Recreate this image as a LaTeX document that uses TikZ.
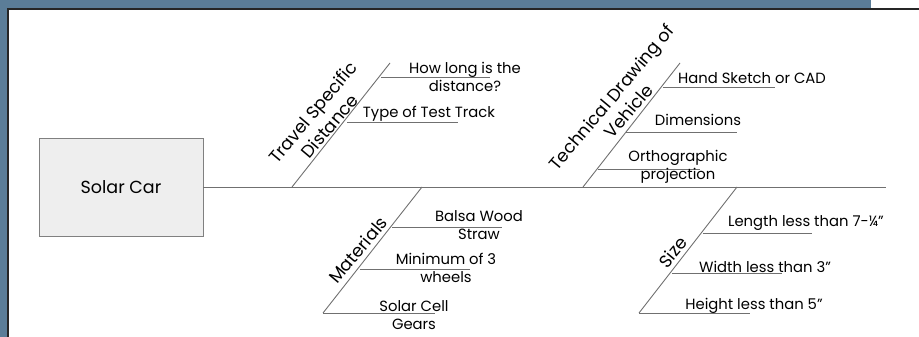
\documentclass[tikz,border=0pt]{standalone}
\usepackage{fontspec}
\setmainfont{Poppins}
\definecolor{bandblue}{HTML}{5B7D98}
\definecolor{linegray}{HTML}{707070}
\definecolor{boxfill}{HTML}{EEEEEE}
\begin{document}
\begin{tikzpicture}[x=1pt,y=-1pt,
  bone/.style={draw=linegray,line width=0.9pt},
  lbl/.style={font=\fontsize{14.8}{18}\selectfont,align=center,inner sep=0pt,text=black},
  cat/.style={font=\fontsize{17.5}{22}\selectfont,align=center,inner sep=0pt,rotate=50,text=black}]
\useasboundingbox (0,0) rectangle (919,337);
% frame bands
\fill[bandblue] (0,0) rectangle (871,8);
\fill[bandblue] (0,0) rectangle (7,337);
\fill[black!85] (7,8) rectangle (919,9.6);
\fill[black!85] (7,8) rectangle (8.6,337);
% head box
\node[draw=gray,fill=boxfill,minimum width=164pt,minimum height=98pt,inner sep=0pt,
  font=\fontsize{17.5}{20}\selectfont] (head) at (121,187) {Solar Car};
\coordinate (tail) at (886,187);
\draw[bone] (head.east) -- (tail);
% branch coordinates
\coordinate (t0) at (292,187); \coordinate (t1) at (390,63);
\coordinate (d0) at (583,187); \coordinate (d1) at (680,63);
\coordinate (m0) at (422,187); \coordinate (m1) at (323,313);
\coordinate (s0) at (737,187); \coordinate (s1) at (639,313);
\draw[bone] (t0) -- (t1);
\draw[bone] (d0) -- (d1);
\draw[bone] (m0) -- (m1);
\draw[bone] (s0) -- (s1);
% travel sub-bones
\coordinate (ta) at (381,77); \coordinate (tae) at (490,77);
\coordinate (tb) at (347,122); \coordinate (tbe) at (458,122);
\draw[bone] (ta) -- (tae); \draw[bone] (tb) -- (tbe);
% drawing sub-bones
\coordinate (da) at (663,87); \coordinate (dae) at (775,87);
\coordinate (db) at (626,132); \coordinate (dbe) at (737,132);
\coordinate (dc) at (598,169); \coordinate (dce) at (700,169);
\draw[bone] (da) -- (dae); \draw[bone] (db) -- (dbe); \draw[bone] (dc) -- (dce);
% materials sub-bones
\coordinate (ma) at (392,227); \coordinate (mae) at (502,227);
\coordinate (mb) at (360,269); \coordinate (mbe) at (470,269);
\coordinate (mce) at (435,313);
\draw[bone] (ma) -- (mae); \draw[bone] (mb) -- (mbe); \draw[bone] (m1) -- (mce);
% size sub-bones
\coordinate (sa) at (703,233); \coordinate (sae) at (812,233);
\coordinate (sb) at (672,273); \coordinate (sbe) at (782,273);
\coordinate (sce) at (750,313);
\draw[bone] (sa) -- (sae); \draw[bone] (sb) -- (sbe); \draw[bone] (s1) -- (sce);
% category labels
\node[cat] (ctravel) at (321,119) {Travel Specific\\Distance};
\node[cat] (cdraw) at (620,104) {Technical Drawing of\\Vehicle};
\node[cat] (cmat) at (358,250) {Materials};
\node[cat] (csize) at (673,252) {Size};
% cause labels
\node[lbl] (l1) at (465,77) {How long is the\\distance?};
\node[lbl] (l2) at (429,114) {Type of Test Track};
\node[lbl] (l3) at (752,78) {Hand Sketch or CAD};
\node[lbl] (l4) at (698,120) {Dimensions};
\node[lbl] (l5) at (678,167) {Orthographic\\projection};
\node[lbl] (l6) at (479,225) {Balsa Wood\\Straw};
\node[lbl] (l7) at (446,268) {Minimum of 3\\wheels};
\node[lbl] (l8) at (414,315) {Solar Cell\\Gears};
\node[lbl] (l9) at (806,223) {Length less than 7-¼"};
\node[lbl] (l10) at (765,267) {Width less than 3"};
\node[lbl] (l11) at (754,306) {Height less than 5"};
\end{tikzpicture}
\end{document}
